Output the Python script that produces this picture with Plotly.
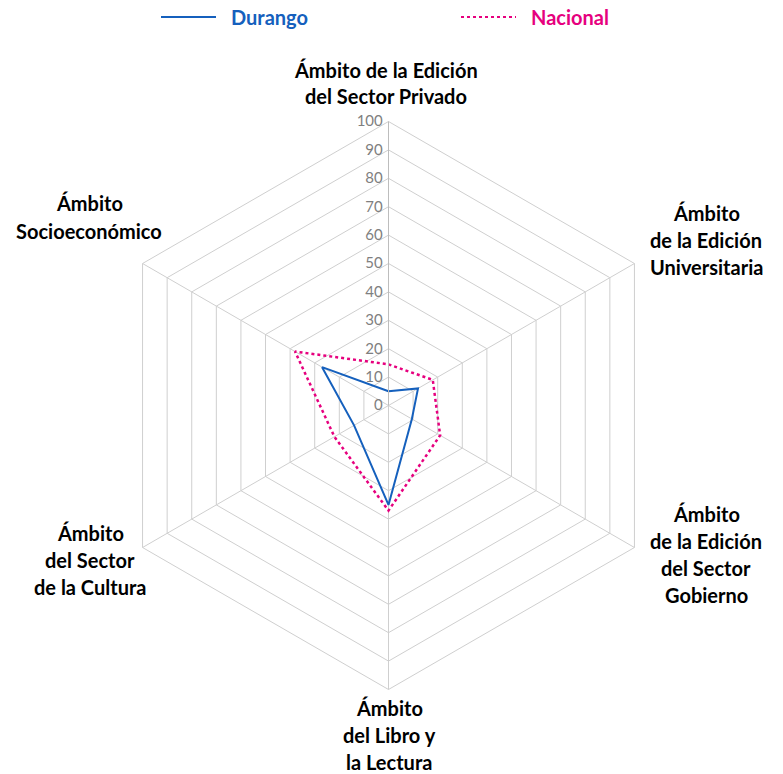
import plotly.graph_objects as go

# Ámbitos (ejes del radar), en sentido horario desde arriba
ambitos = [
    ["Ámbito de la Edición", "del Sector Privado"],
    ["Ámbito", "de la Edición", "Universitaria"],
    ["Ámbito", "de la Edición", "del Sector", "Gobierno"],
    ["Ámbito", "del Libro y", "la Lectura"],
    ["Ámbito", "del Sector", "de la Cultura"],
    ["Ámbito", "Socioeconómico"],
]
claves = ["Privado", "Universitaria", "Gobierno", "Libro", "Cultura", "Socioeconomico"]

durango = [5, 12, 9.5, 35, 14, 27]
nacional = [14.5, 18, 21, 37, 22, 38]

radial_ticks = list(range(0, 101, 10))

W, H = 783, 774
cx, cy, R = 388.5, 405.5, 284  # centro y radio del radar en píxeles

AZUL = "#1560BD"
ROSA = "#E6007E"

fig = go.Figure()
fig.add_trace(go.Scatterpolar(
    r=durango + durango[:1], theta=claves + claves[:1], mode="lines",
    name="Durango", line=dict(color=AZUL, width=2),
))
fig.add_trace(go.Scatterpolar(
    r=nacional + nacional[:1], theta=claves + claves[:1], mode="lines",
    name="Nacional", line=dict(color=ROSA, width=2.5, dash="dot"),
))

grid = "#cfcfcf"
fig.update_layout(
    width=W, height=H,
    margin=dict(l=0, r=0, t=0, b=0),
    paper_bgcolor="white",
    font=dict(family="Lato", size=18, color="black"),
    showlegend=False,
    polar=dict(
        domain=dict(x=[(cx - R) / W, (cx + R) / W],
                    y=[(H - cy - R) / H, (H - cy + R) / H]),
        gridshape="linear",
        bgcolor="white",
        radialaxis=dict(
            range=[0, 100], tickvals=radial_ticks, angle=90, tickangle=90,
            side="counterclockwise",
            showline=True, linecolor="#bdbdbd", linewidth=1,
            gridcolor=grid, gridwidth=1, ticks="",
            tickfont=dict(family="Lato", size=15, color="#7f7f7f"),
        ),
        angularaxis=dict(
            rotation=90, direction="clockwise",
            categoryorder="array", categoryarray=claves,
            showticklabels=False, ticks="",
            showline=True, linecolor=grid, gridcolor=grid, linewidth=1,
        ),
    ),
)

# Leyenda dibujada a mano: muestra de línea + nombre en su color
leyenda = [("Durango", AZUL, "solid", 2, 161), ("Nacional", ROSA, "dot", 1.8, 461)]
for nombre, color, dash, ancho, x0 in leyenda:
    fig.add_shape(
        type="line", xref="paper", yref="paper",
        x0=x0 / W, x1=(x0 + 55) / W, y0=1 - 17 / H, y1=1 - 17 / H,
        line=dict(color=color, width=ancho, dash=dash),
    )
    fig.add_annotation(
        x=(x0 + 68) / W, y=1 - 17 / H, xref="paper", yref="paper",
        text=f"<b>{nombre}</b>", showarrow=False,
        xanchor="left", yanchor="middle",
        font=dict(family="Lato", size=20, color=color),
    )

# Etiquetas de los ámbitos alrededor del hexágono, una línea por anotación
pos = [(386, 83), (706, 240), (706, 554), (389, 735), (90, 560), (89, 217)]
paso = 27
for lines, (x, y) in zip(ambitos, pos):
    y0 = y - paso * (len(lines) - 1) / 2
    for i, s in enumerate(lines):
        fig.add_annotation(
            x=x / W, y=1 - (y0 + i * paso) / H, xref="paper", yref="paper",
            text=f"<b>{s}</b>", showarrow=False,
            xanchor="center", yanchor="middle",
            font=dict(family="Lato", size=20, color="black"),
        )

fig.write_html("out.html")
